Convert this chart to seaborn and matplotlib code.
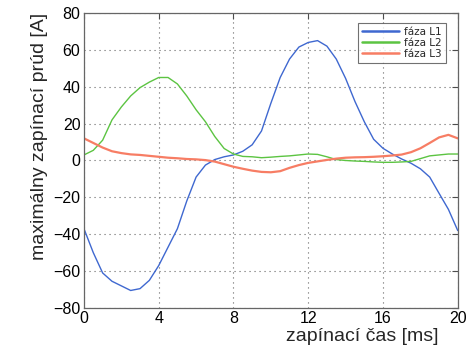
import numpy as np
import pandas as pd
import seaborn as sns
import matplotlib
matplotlib.use("Agg")
import matplotlib.pyplot as plt
from matplotlib.lines import Line2D

time_ms = [0, 0.5, 1, 1.5, 2, 2.5, 3, 3.5, 4, 4.5, 5, 5.5, 6, 6.5, 7, 7.5, 8, 8.5, 9, 9.5,
           10, 10.5, 11, 11.5, 12, 12.5, 13, 13.5, 14, 14.5, 15, 15.5, 16, 16.5, 17, 17.5,
           18, 18.5, 19, 19.5, 20]
faza_L1 = [-37, -50, -61, -65.5, -68, -70.5, -69.5, -65, -57, -47, -37, -22, -9, -2.5, 0.5, 2,
           3, 5, 8.5, 16, 31, 45, 55, 61.5, 64, 65, 62, 55, 44.5, 32, 21, 11.5, 6.6, 3.5, 0.8,
           -1.5, -4.5, -9, -17.8, -26.5, -38]
faza_L2 = [3, 5.5, 11, 22, 29, 35, 39.5, 42.5, 45, 45, 41.5, 35, 27.5, 21, 13, 6.5, 3.5, 2.2,
           2, 1.5, 1.8, 2.2, 2.5, 3, 3.5, 3.3, 2, 0.5, 0, -0.3, -0.5, -0.8, -1, -1, -0.8, -0.5,
           1, 2.5, 3, 3.5, 3.5]
faza_L3 = [12, 9.5, 7, 5, 4, 3.3, 3, 2.5, 2, 1.5, 1.2, 0.8, 0.6, 0.2, -0.6, -2, -3.4, -4.5,
           -5.5, -6.2, -6.4, -5.8, -4, -2.5, -1.3, -0.5, 0.3, 1, 1.5, 1.7, 1.8, 2, 2.3, 2.7,
           3.2, 4.5, 6.6, 9.5, 12.5, 13.9, 12]
series_names = ["fáza L1", "fáza L2", "fáza L3"]
x_ticks = [0, 4, 8, 12, 16, 20]
y_ticks = [-80, -60, -40, -20, 0, 20, 40, 60, 80]

rows = []
for name, vals in zip(series_names, [faza_L1, faza_L2, faza_L3]):
    for t, v in zip(time_ms, vals):
        rows.append({"t": t, "I": v, "faza": name})
df = pd.DataFrame(rows)

sns.set_theme(style="white")
plt.rcParams['font.family'] = ['Liberation Sans', 'DejaVu Sans']

fig = plt.figure(figsize=(4.69, 3.5), dpi=100)
ax = fig.add_axes([0.179, 0.12, 0.797, 0.843])

palette = {"fáza L1": "#3f68d0", "fáza L2": "#5cc442", "fáza L3": "#f77d64"}
sizes = {"fáza L1": 1.0, "fáza L2": 1.0, "fáza L3": 1.6}
sns.lineplot(data=df, x="t", y="I", hue="faza", palette=palette, size="faza",
             sizes=sizes, ax=ax, legend=False)

ax.set_xlim(0, 20)
ax.set_ylim(-80, 80)
ax.set_xticks(x_ticks)
ax.set_yticks(y_ticks)
ax.tick_params(direction="in", length=4, width=0.8, top=True, right=True,
               labelsize=11.5, colors="0.3", labelcolor="black", pad=2.5)
for s in ax.spines.values():
    s.set_color("0.4")
    s.set_linewidth(0.9)
ax.grid(True, linestyle=(0, (1, 3.5)), color="0.4", linewidth=0.8)

ax.set_ylabel("maximálny zapínací prúd [A]", fontsize=14)
ax.yaxis.set_label_coords(-0.097, 0.58)
ax.set_xlabel("zapínací čas [ms]", fontsize=14)
ax.xaxis.set_label_coords(0.745, -0.068)

handles = [Line2D([0], [0], color=palette[n], lw=1.8) for n in series_names]
leg = ax.legend(handles, series_names, loc="upper right",
                bbox_to_anchor=((446 - 84) / 374, (308 - 23) / 295),
                frameon=True, fancybox=False, edgecolor="0.3",
                handlelength=3.6, borderpad=0.35, labelspacing=0.12,
                handletextpad=0.5, borderaxespad=0.0,
                prop={"family": "DejaVu Sans", "size": 7.5})
leg.get_frame().set_linewidth(0.8)

fig.savefig("out.png", dpi=100)
